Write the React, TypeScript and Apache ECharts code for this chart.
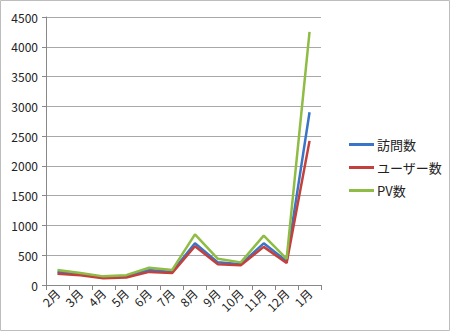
import React, { useEffect, useRef } from "react";
import * as echarts from "echarts";

const categories = ["2月", "3月", "4月", "5月", "6月", "7月", "8月", "9月", "10月", "11月", "12月", "1月"];
const visits = [220, 180, 130, 150, 250, 220, 700, 380, 350, 700, 400, 2900];
const users = [190, 165, 115, 125, 220, 200, 650, 350, 330, 640, 370, 2420];
const pv = [250, 200, 145, 165, 290, 250, 850, 440, 380, 830, 440, 4250];
const seriesNames = ["訪問数", "ユーザー数", "PV数"];
const colors = ["#3a74c6", "#c4403d", "#8fbc45"];

export default function App() {
  const ref = useRef<HTMLDivElement>(null);
  useEffect(() => {
    const chart = echarts.init(ref.current!, undefined, { renderer: "svg" });
    const font = '"Noto Sans CJK JP", "DejaVu Sans", sans-serif';
    chart.setOption({
      animation: false,
      backgroundColor: "#fff",
      textStyle: { fontFamily: font },
      graphic: [
        {
          type: "rect",
          shape: { x: 0.5, y: 0.5, width: 449, height: 330 },
          style: { fill: "none", stroke: "#bdbdbd", lineWidth: 1 },
          silent: true,
        },
      ],
      grid: { left: 46, right: 129, top: 17, bottom: 46 },
      legend: {
        orient: "vertical",
        left: 344,
        top: 133,
        itemWidth: 25,
        itemHeight: 3,
        itemGap: 10,
        icon: "rect",
        textStyle: { fontSize: 13, color: "#222", padding: [0, 0, 0, -2] },
        data: seriesNames,
      },
      xAxis: {
        type: "category",
        data: categories,
        boundaryGap: true,
        axisLine: { lineStyle: { color: "#888", width: 1 } },
        axisTick: { show: true, alignWithLabel: false, length: 5, lineStyle: { color: "#888" } },
        axisLabel: { rotate: 45, fontSize: 12, color: "#222", margin: 6, interval: 0 },
      },
      yAxis: {
        type: "value",
        min: 0,
        max: 4500,
        interval: 500,
        axisLine: { show: true, lineStyle: { color: "#888", width: 1 } },
        axisTick: { show: true, length: 4, lineStyle: { color: "#888" } },
        axisLabel: { fontSize: 12, color: "#222", margin: 8, formatter: (v: number) => String(v) },
        splitLine: { lineStyle: { color: "#a8a8a8", width: 1 } },
      },
      series: [visits, users, pv].map((d, i) => ({
        name: seriesNames[i],
        type: "line",
        data: d,
        symbol: "none",
        color: colors[i],
        lineStyle: { width: 2.5, color: colors[i] },
      })),
    });
    return () => chart.dispose();
  }, []);
  return <div ref={ref} style={{ position: "absolute", left: 0, top: 0, width: 450, height: 331 }} />;
}
